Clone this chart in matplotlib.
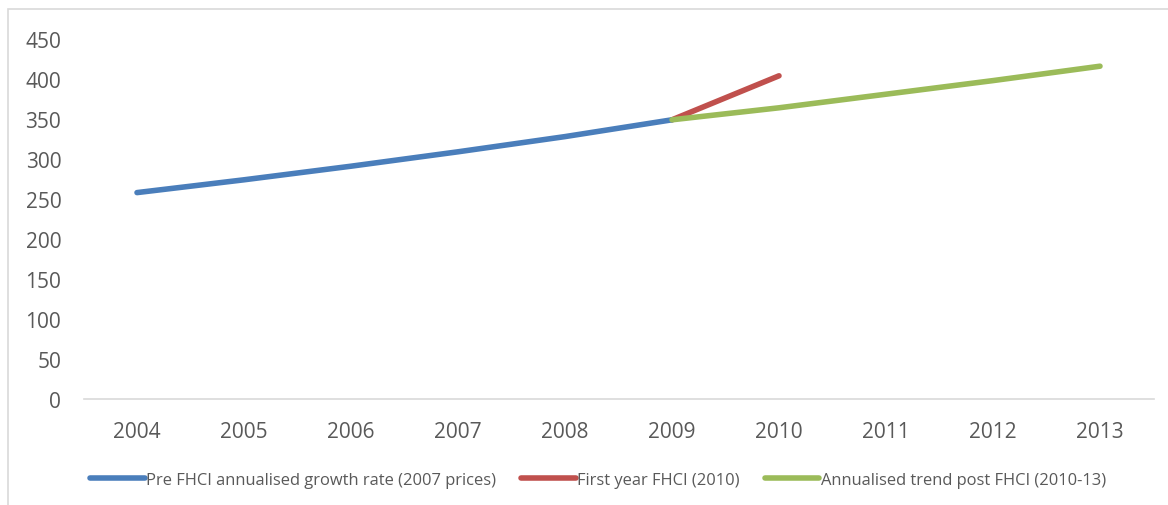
import matplotlib
matplotlib.use("Agg")
import matplotlib.pyplot as plt
from matplotlib.patches import Rectangle

plt.rcParams['font.family'] = ['Open Sans', 'DejaVu Sans']

years = ['2004', '2005', '2006', '2007', '2008', '2009', '2010', '2011', '2012', '2013']
pre_fhci = [258, 274, 291, 309, 328, 349]          # 2004-2009
first_year = [349, 404]                            # 2009-2010
post_trend = [349, 364, 381, 398, 416]             # 2009-2013
yticks = [0, 50, 100, 150, 200, 250, 300, 350, 400, 450]

labels = ['Pre FHCI annualised growth rate (2007 prices)',
          'First year FHCI (2010)',
          'Annualised trend post FHCI (2010-13)']
colors = ['#4a7ebb', '#c0504d', '#9bbb59']

W, H = 1168, 506
fig = plt.figure(figsize=(W / 100, H / 100), dpi=100)
fig.patch.set_facecolor('white')

# chart border
fig.add_artist(Rectangle((8 / W, -0.05), 1.2, 1 - 10 / H + 0.05, transform=fig.transFigure,
                         fill=False, edgecolor='#d9d9d9', linewidth=1.2))

ax = fig.add_axes([83.5 / W, 106 / H, (1153.5 - 83.5) / W, (466 - 106) / H])
x = list(range(len(years)))
lw = 4
ax.plot(x[0:6], pre_fhci, color=colors[0], lw=lw, solid_capstyle='round', label=labels[0], zorder=3)
ax.plot(x[5:7], first_year, color=colors[1], lw=lw, solid_capstyle='round', label=labels[1], zorder=2)
ax.plot(x[5:10], post_trend, color=colors[2], lw=lw, solid_capstyle='round', label=labels[2], zorder=4)

ax.set_xlim(-0.5, len(years) - 0.5)
ax.set_ylim(0, 450)
ax.set_xticks(x)
ax.set_xticklabels(years)
ax.set_yticks(yticks)
ax.tick_params(axis='both', length=0, labelsize=15, labelcolor='#595959')
ax.tick_params(axis='x', pad=16)
ax.tick_params(axis='y', pad=16)
for s in ['top', 'right', 'left']:
    ax.spines[s].set_visible(False)
ax.spines['bottom'].set_color('#d9d9d9')
ax.spines['bottom'].set_linewidth(1.2)

leg = fig.legend(loc='center', bbox_to_anchor=(598 / W, 1 - 481 / H), ncol=3, frameon=False,
                 fontsize=11.9, handlelength=3.3, handletextpad=0.1, columnspacing=1.5)
for t in leg.get_texts():
    t.set_color('#595959')
for h in leg.get_lines():
    h.set_linewidth(4)
    h.set_solid_capstyle('round')

fig.savefig('out.png', dpi=100, facecolor='white')
